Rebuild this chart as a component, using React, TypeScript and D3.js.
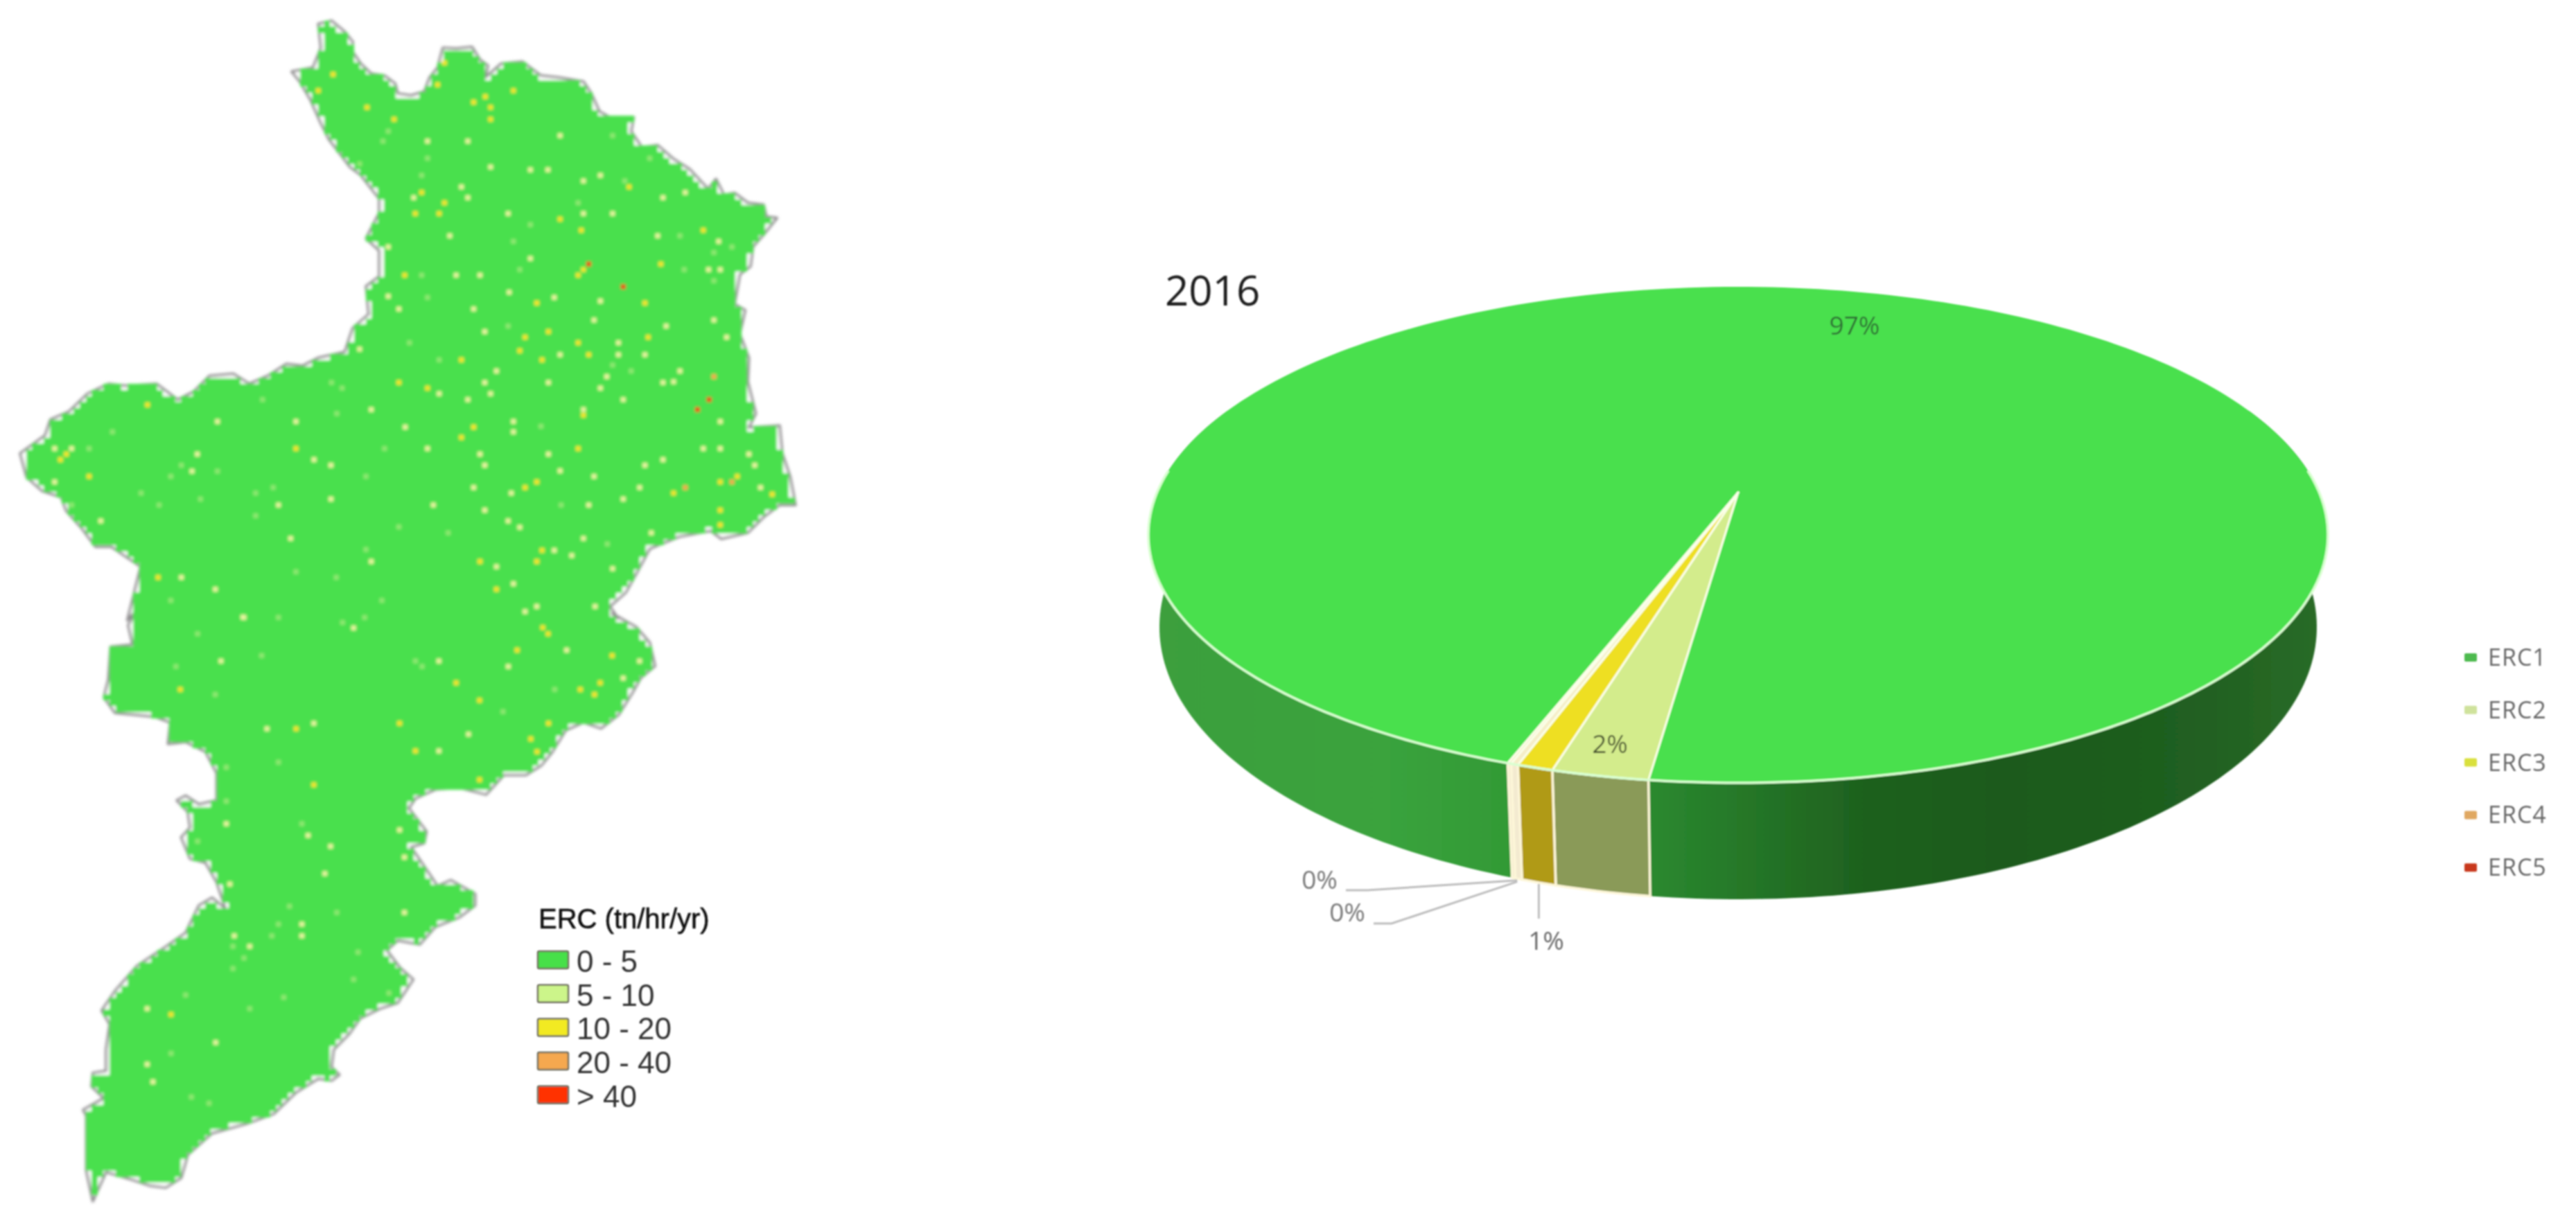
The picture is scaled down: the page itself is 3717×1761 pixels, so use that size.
import React from "react";
import * as d3 from "d3";

type Pt = [number, number];

const width = 3717;
const height = 1761;

// pie values, legend entries
const ercNames = ["ERC1", "ERC2", "ERC3", "ERC4", "ERC5"];
const ercValues = [97, 2.7, 1, 0.2, 0.1];
const ercLabels = ["97%", "2%", "1%", "0%", "0%"];
const ercTopColors = ["#4ae04d", "#d3ec8c", "#eedf20", "#f5eec8", "#f5eec8"];
const ercLegendColors = ["#4dba50", "#cfe29c", "#d9e03c", "#e0a862", "#c8381a"];
const ercSideColors = ["url(#sideGrad)", "#8a9a58", "#b09a18", "#f3ead0", "#f3ead0"];
const pieYear = "2016";

const mapLegendTitle = "ERC (tn/hr/yr)";
const mapLegendLabels = ["0 - 5", "5 - 10", "10 - 20", "20 - 40", "> 40"];
const mapLegendColors = ["#46e048", "#ccf58a", "#f2ea20", "#f5a850", "#ff3000"];

const outlineNorth: Pt[] = [
  [600,60],[625,52],[650,80],[665,105],[665,130],[680,160],[700,185],[725,190],[745,210],[750,235],[775,240],[800,230],[810,195],[825,170],[835,120],[860,122],[890,118],[905,150],[920,165],[915,195],[945,160],[985,155],[1020,190],[1055,195],[1100,205],[1115,235],[1130,280],[1150,295],[1195,295],[1190,330],[1210,370],[1240,365],[1270,400],[1300,425],[1335,475],[1350,450],[1365,490],[1385,485],[1410,510],[1440,515],[1445,545],[1465,548],[1440,590],[1420,620],[1415,670],[1395,690],[1385,765],[1405,780],[1395,840],[1412,900],[1410,960],[1425,1040],[1412,1075],[1470,1070],[1475,1140],[1490,1200],[1500,1270],[1470,1270],[1440,1300],[1410,1340],[1360,1355],[1340,1335],[1280,1350],[1225,1380],[1205,1430],[1180,1490],[1150,1525],[1165,1555],
];
const outlineSouth: Pt[] = [
  [1385,10],[1440,45],[1470,85],[1482,145],[1450,175],[1430,215],[1400,270],[1360,305],[1320,290],[1280,310],[1250,365],[1225,400],[1190,425],[1140,425],[1100,475],[1040,458],[985,462],[940,485],[925,510],[965,570],[960,600],[930,610],[960,660],[990,710],[1020,695],[1075,730],[1075,760],[1040,790],[985,815],[950,860],[900,850],[875,875],[905,920],[935,950],[900,1010],[860,1025],[815,1050],[790,1090],[755,1130],[750,1175],[768,1195],[750,1210],[720,1205],[670,1240],[620,1295],[560,1320],[480,1345],[425,1400],[410,1460],[375,1485],[340,1480],[300,1465],[240,1445],[210,1520],[195,1440],[195,1300],[188,1285],[235,1255],[207,1225],[210,1190],[240,1185],[240,1130],[248,1065],[230,1030],[260,980],[310,915],[370,870],[420,830],[450,760],[480,740],[510,768],[490,700],[465,650],[430,640],[410,585],[430,560],[425,520],[400,490],[420,478],[450,500],[490,490],[490,420],[465,365],[420,340],[380,345],[385,290],[350,275],[260,265],[235,225],[245,180],[250,95],[300,90],[290,40],[310,0],
];
const outlineNorthWest: Pt[] = [
  [240,1560],[255,1480],[265,1425],[210,1375],[180,1375],[155,1330],[125,1285],[115,1250],[80,1235],[50,1200],[38,1140],[85,1095],[95,1055],[130,1035],[165,990],[205,965],[235,970],[295,965],[335,1005],[365,985],[395,945],[440,940],[470,965],[505,945],[540,915],[570,920],[600,900],[650,885],[665,825],[695,790],[690,720],[715,695],[715,630],[690,600],[715,535],[715,500],[680,440],[660,420],[620,350],[605,310],[585,250],[565,205],[550,180],[590,170],[605,120],
];

// raster cells that are not class 1
const northYellow: Pt[] = [[628,187],[692,270],[600,228],[825,213],[838,158],[968,228],[915,243],[893,257],[925,270],[925,300],[743,300],[795,484],[838,510],[828,537],[783,537],[1186,470],[1056,551],[1326,579],[1096,579],[763,692],[1246,664],[1090,692],[1100,678],[1012,762],[1216,762],[990,848],[1222,848],[1034,834],[1090,862],[980,882],[1022,905],[1110,892],[870,905],[752,962],[806,976],[278,1018],[168,1198],[114,1156],[125,1142],[893,1074],[870,1100],[1100,1044],[1090,1128],[558,1128],[1012,1212],[990,1226],[1358,1212],[1390,1198],[1270,1240],[1456,1243],[1358,1283],[1358,1320],[905,1412],[1012,1412],[1022,1384],[936,1482],[298,1452]];
const northPale: Pt[] = [[806,355],[882,355],[1056,341],[925,420],[1000,427],[1033,427],[1132,441],[1100,455],[870,470],[882,497],[780,497],[958,537],[1100,537],[1155,537],[1250,497],[1292,484],[848,593],[1240,593],[1355,607],[732,621],[1000,650],[860,692],[905,692],[1336,678],[1358,678],[960,735],[732,745],[1045,748],[1132,757],[752,777],[893,777],[1120,805],[1346,805],[1256,820],[914,834],[1166,862],[1370,848],[1056,892],[1166,892],[1216,892],[678,878],[936,933],[1144,947],[1034,962],[914,962],[1250,962],[1270,960],[1282,933],[1132,976],[828,990],[925,990],[882,1005],[1175,1005],[700,1030],[410,1060],[968,1060],[558,1060],[764,1074],[968,1086],[1358,1060],[1100,1030],[806,1128],[905,1142],[1034,1142],[1326,1128],[1358,1128],[1412,1142],[1250,1156],[914,1170],[1216,1170],[1423,1170],[624,1170],[592,1156],[372,1142],[135,1128],[103,1128],[1056,1184],[1120,1198],[362,1185],[103,1212],[893,1226],[964,1240],[1206,1226],[1434,1226],[1175,1255],[624,1255],[525,1270],[817,1270],[914,1283],[1110,1270],[190,1310],[958,1310],[980,1326],[1228,1340],[1100,1354],[548,1354],[1045,1384],[1078,1397],[700,1412],[936,1425],[1155,1430],[342,1452],[406,1482],[968,1468],[1012,1525],[1122,1525],[990,1538],[458,1552]];
const northFaint: Pt[] = [[732,330],[722,355],[806,398],[678,412],[1225,398],[1155,341],[795,441],[1178,455],[1090,510],[1000,565],[968,607],[1282,593],[1380,621],[1346,635],[795,692],[980,678],[1290,678],[1346,706],[806,748],[958,820],[772,862],[828,905],[1155,918],[1190,933],[625,962],[645,976],[495,1005],[635,1040],[1020,1072],[212,1086],[168,1128],[725,1128],[342,1170],[410,1185],[322,1198],[690,1198],[515,1226],[266,1240],[482,1240],[378,1255],[300,1270],[135,1270],[482,1297],[690,1382],[752,1325],[558,1438],[634,1452],[1145,1368],[1058,1270],[322,1510],[720,1510],[845,1340]];
const northOrange: Pt[] = [[1346,947],[1292,1226],[1380,1212]];
const northRed: Pt[] = [[1110,664],[1175,721],[1337,1005],[1315,1030]];
const southYellow: Pt[] = [[408,205],[1032,188],[1085,233],[1313,205],[1358,188],[1345,218],[904,292],[1241,292],[1201,332],[1215,365],[940,363],[670,306],[1170,104],[1385,118],[1240,62],[1228,46],[1085,437],[387,1040],[710,450]];
const southPale: Pt[] = [[552,20],[800,47],[500,132],[1150,146],[993,132],[1282,104],[1447,132],[1410,176],[604,306],[710,292],[1060,320],[993,363],[697,580],[748,608],[735,678],[512,550],[346,1213],[488,1112],[530,838],[565,865],[683,808],[683,838],[333,1025],[333,1168],[904,566],[915,778],[915,636],[520,705]];
const southFaint: Pt[] = [[447,62],[630,20],[775,33],[825,20],[592,118],[398,146],[940,132],[955,146],[487,218],[1138,262],[1255,205],[630,392],[512,405],[512,492],[683,550],[447,595],[655,762],[762,778],[630,808],[615,838],[527,865],[552,895],[527,922],[420,990],[642,996],[565,1025],[387,1140],[433,1252],[473,1268],[810,880],[800,950],[880,985]];

const northX = d3.scaleLinear().domain([0, 1568]).range([0, 1200]);
const northY = d3.scaleLinear().domain([0, 1568]).range([0, 900]);
const southX = d3.scaleLinear().domain([0, 1568]).range([0, 1000]);
const southY = d3.scaleLinear().domain([0, 1568]).range([880, 1761]);
const fromNorth = (p: Pt): Pt => [northX(p[0]), northY(p[1])];
const fromSouth = (p: Pt): Pt => [southX(p[0]), southY(p[1])];

const boundary: Pt[] = [
  ...outlineNorth.map(fromNorth),
  ...outlineSouth.map(fromSouth),
  ...outlineNorthWest.map(fromNorth),
];

const cellSize = 8.6;

// the green raster: a staircase of cells sitting just inside the boundary
function rasterPath() {
  const xs = d3.extent(boundary, (d) => d[0]) as [number, number];
  const ys = d3.extent(boundary, (d) => d[1]) as [number, number];
  const inset = 2.2;
  let out = "";
  for (let y = ys[0]; y < ys[1]; y += cellSize) {
    let runStart: number | null = null;
    for (let x = xs[0]; x <= xs[1] + cellSize; x += cellSize) {
      const cx = x + cellSize / 2;
      const cy = y + cellSize / 2;
      const inside =
        d3.polygonContains(boundary, [cx - inset, cy - inset]) &&
        d3.polygonContains(boundary, [cx + inset, cy - inset]) &&
        d3.polygonContains(boundary, [cx - inset, cy + inset]) &&
        d3.polygonContains(boundary, [cx + inset, cy + inset]);
      if (inside && runStart === null) runStart = x;
      if (!inside && runStart !== null) {
        out += `M${runStart},${y}H${x}V${y + cellSize + 0.5}H${runStart}Z`;
        runStart = null;
      }
    }
  }
  return out;
}

// pie layout
const pieLayout = d3
  .pie<number>()
  .sort(null)
  .startAngle((203 * Math.PI) / 180)
  .endAngle((563 * Math.PI) / 180);
const arcs = pieLayout(ercValues);

const apex: Pt = [2508, 711];
const topRim = { cx: 2508, cy: 772, rx: 851, ry: 358 };
const baseRim = { cx: 2508, cy: 905, rx: 835, ry: 393 };
const onRim = (rim: typeof topRim, a: number): Pt => [
  rim.cx + rim.rx * Math.sin(a),
  rim.cy - rim.ry * Math.cos(a),
];
const lineGen = d3.line<Pt>();
const sweep = (rim: typeof topRim, a0: number, a1: number): Pt[] => {
  const n = Math.max(2, Math.ceil(Math.abs(a1 - a0) / 0.02));
  return d3.range(n + 1).map((i) => onRim(rim, a0 + ((a1 - a0) * i) / n));
};
const sidePath = (a0: number, a1: number) =>
  lineGen([...sweep(topRim, a0, a1), ...sweep(baseRim, a1, a0)]) + "Z";
const deg = (d: number) => (d * Math.PI) / 180;

const sans = "'Open Sans', sans-serif";
const legendFont = "'Liberation Sans', sans-serif";

export default function App() {
  const e1 = arcs[0];
  const e2 = arcs[1];
  const e3 = arcs[2];
  const e4 = arcs[3];
  const e5 = arcs[4];
  const frontLeftEnd = deg(300);
  const rightBack = deg(60);
  const e1End = e1.endAngle - 2 * Math.PI; // front edge, right of the small slices
  const sliverBase = onRim(baseRim, (e4.endAngle + e4.startAngle) / 2);
  const thirdBase = onRim(baseRim, (e3.startAngle + e3.endAngle) / 2);

  const dotGroups: { pts: Pt[]; fill: string }[] = [
    { pts: [...northFaint.map(fromNorth), ...southFaint.map(fromSouth)], fill: "#8ee872" },
    { pts: [...northPale.map(fromNorth), ...southPale.map(fromSouth)], fill: "#e8f5a0" },
    { pts: [...northYellow.map(fromNorth), ...southYellow.map(fromSouth)], fill: "#f6e52c" },
    { pts: northOrange.map(fromNorth), fill: "#f5a850" },
    { pts: northRed.map(fromNorth), fill: "#f03a18" },
  ];

  return (
    <svg
      width={width}
      height={height}
      viewBox={`0 0 ${width} ${height}`}
      style={{ position: "absolute", left: 0, top: 0, background: "#fff", display: "block" }}
    >
      <defs>
        <filter id="soft" x="-2%" y="-2%" width="104%" height="104%">
          <feGaussianBlur stdDeviation="1.3" />
        </filter>
        <filter id="softer" x="-2%" y="-2%" width="104%" height="104%">
          <feGaussianBlur stdDeviation="1.9" />
        </filter>
        <linearGradient id="sideGrad" gradientUnits="userSpaceOnUse" x1="1660" x2="3360" y1="0" y2="0">
          <stop offset="0" stopColor="#3c9f3c" />
          <stop offset="0.2" stopColor="#3aa33d" />
          <stop offset="0.3" stopColor="#339a36" />
          <stop offset="0.42" stopColor="#2b8a30" />
          <stop offset="0.6" stopColor="#1f621f" />
          <stop offset="0.72" stopColor="#1c5a1e" />
          <stop offset="0.88" stopColor="#205f20" />
          <stop offset="1" stopColor="#2a6c28" />
        </linearGradient>
      </defs>

      <g filter="url(#softer)">
        {/* map */}
        <path d={lineGen(boundary) + "Z"} fill="#fff" stroke="#8e8c8e" strokeWidth={3.5} strokeLinejoin="round" />
        <path d={rasterPath()} fill="#4ae04d" shapeRendering="crispEdges" />
        {dotGroups.map((g, i) => (
          <g key={i} fill={g.fill}>
            {g.pts.map((p, j) => (
              <rect key={j} x={p[0] - 3.5} y={p[1] - 3.5} width={7} height={7} />
            ))}
          </g>
        ))}
      </g>

      <g filter="url(#soft)">
        {/* map legend */}
        <text x={777} y={1340} fontFamily={legendFont} fontSize={40} fill="#111" stroke="#111" strokeWidth={0.6}>
          {mapLegendTitle}
        </text>
        {mapLegendLabels.map((label, i) => (
          <g key={label}>
            <rect
              x={776}
              y={1373 + i * 48.7}
              width={44}
              height={25}
              rx={2}
              fill={mapLegendColors[i]}
              stroke="#6f6f5f"
              strokeWidth={2.5}
            />
            <text x={832} y={1403 + i * 48.7} fontFamily={legendFont} fontSize={44} fill="#333">
              {label}
            </text>
          </g>
        ))}

        {/* pie: wall first, top face over it */}
        <path d={sidePath(e1.startAngle, frontLeftEnd)} fill={ercSideColors[0]} />
        <path d={sidePath(rightBack, e1End)} fill={ercSideColors[0]} />
        {[e2, e3, e4, e5].map((a, i) => (
          <path
            key={i}
            d={sidePath(a.startAngle, a.endAngle)}
            fill={ercSideColors[i + 1]}
            stroke="#fdf6d8"
            strokeWidth={3.5}
          />
        ))}
        {[e1, e2, e3, e4, e5].map((a, i) => (
          <path
            key={i}
            d={lineGen([apex, ...sweep(topRim, a.startAngle, a.endAngle)]) + "Z"}
            fill={ercTopColors[i]}
            stroke={i === 0 ? "none" : "#fbffe8"}
            strokeWidth={i === 0 ? 0 : 3}
            strokeLinejoin="round"
          />
        ))}
        <path d={lineGen(sweep(topRim, deg(75), deg(285))) ?? ""} fill="none" stroke="#d8ffd0" strokeWidth={3.5} />

        <text x={1681} y={441} fontFamily={sans} fontSize={60} fill="#1c1c1c">
          {pieYear}
        </text>

        {/* data labels and their leaders */}
        <text x={2676} y={483} textAnchor="middle" fontFamily={sans} fontSize={37} fill="#2f6b35">
          {ercLabels[0]}
        </text>
        <text x={2323} y={1087} textAnchor="middle" fontFamily={sans} fontSize={37} fill="#4a5530">
          {ercLabels[1]}
        </text>
        <text x={2231} y={1371} textAnchor="middle" fontFamily={sans} fontSize={37} fill="#666">
          {ercLabels[2]}
        </text>
        <text x={1904} y={1283} textAnchor="middle" fontFamily={sans} fontSize={37} fill="#777">
          {ercLabels[3]}
        </text>
        <text x={1944} y={1330} textAnchor="middle" fontFamily={sans} fontSize={37} fill="#777">
          {ercLabels[4]}
        </text>
        <g fill="none" stroke="#bdbdbd" strokeWidth={3}>
          <path d={lineGen([[thirdBase[0], thirdBase[1] + 2], [thirdBase[0], thirdBase[1] + 52]]) ?? ""} />
          <path d={lineGen([[sliverBase[0] - 2, sliverBase[1] + 2], [1973, 1285], [1942, 1285]]) ?? ""} />
          <path d={lineGen([[sliverBase[0] - 2, sliverBase[1] + 4], [2008, 1333], [1982, 1333]]) ?? ""} />
        </g>

        {/* pie legend */}
        {ercNames.map((name, i) => (
          <g key={name}>
            <rect x={3556} y={943 + i * 75.8} width={18} height={12} rx={2} fill={ercLegendColors[i]} />
            <text x={3590} y={961 + i * 75.8} fontFamily={sans} fontSize={34} letterSpacing={1} fill="#666">
              {name}
            </text>
          </g>
        ))}
      </g>
    </svg>
  );
}
